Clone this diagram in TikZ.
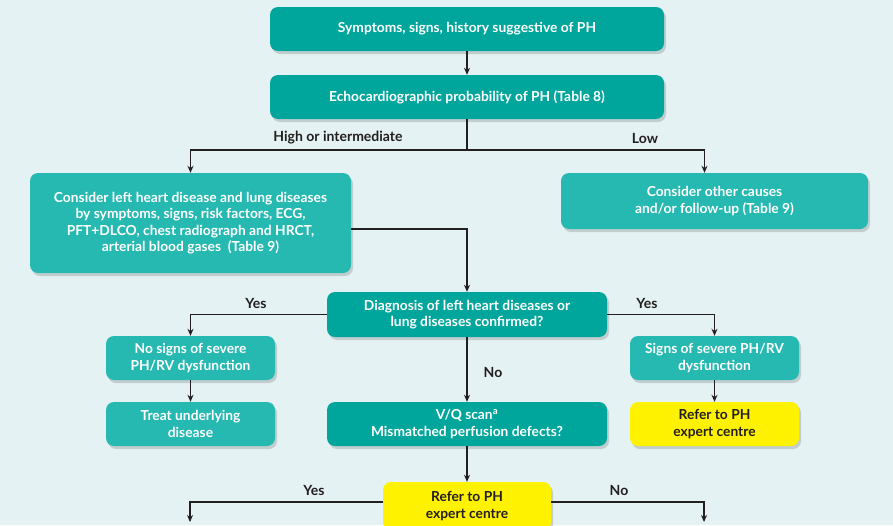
\documentclass[tikz,border=0pt]{standalone}
\usepackage{fontspec}
\setmainfont{Lato}
\usetikzlibrary{shadows,arrows.meta}
\definecolor{bg}{HTML}{E4F2F3}
\definecolor{tealdark}{HTML}{00A69C}
\definecolor{teallight}{HTML}{25B9B1}
\definecolor{ylw}{HTML}{FFF200}
\definecolor{ink}{HTML}{231F20}
\tikzset{
  box/.style={rounded corners=8pt, align=center, inner sep=0pt,
    font=\bfseries\fontsize{13.8}{16.5}\selectfont,
    drop shadow={shadow xshift=2pt, shadow yshift=-3pt, opacity=0.15, fill=black}},
  darkbox/.style={box, fill=tealdark, text=white},
  lightbox/.style={box, fill=teallight, text=white},
  yellowbox/.style={box, fill=ylw, text=ink},
  arr/.style={draw=ink, line width=1.2pt, -{Stealth[length=7pt,width=6pt]}},
  conn/.style={draw=ink, line width=1.2pt},
  lbl/.style={text=ink, font=\bfseries\fontsize{14}{16}\selectfont, inner sep=0pt}
}
\begin{document}
\begin{tikzpicture}[x=1pt,y=-1pt]
\path[use as bounding box, fill=bg] (0,0) rectangle (893,525);
\clip (0,0) rectangle (893,525);

\node[darkbox, minimum width=394pt, minimum height=44pt] (s1) at (467,29) {Symptoms, signs, history suggestive of PH};
\node[darkbox, minimum width=394pt, minimum height=44pt] (s2) at (467,97) {Echocardiographic probability of PH (Table 8)};
\node[lightbox, minimum width=321pt, minimum height=100pt] (left) at (190.5,223) {Consider left heart disease and lung diseases\\by symptoms, signs, risk factors, ECG,\\PFT+DLCO, chest radiograph and HRCT,\\arterial blood gases\ \ (Table 9)};
\node[lightbox, minimum width=307pt, minimum height=56pt] (other) at (714.5,201) {Consider other causes\\and/or follow-up (Table 9)};
\node[darkbox, minimum width=280pt, minimum height=45pt] (diag) at (467,314.5) {Diagnosis of left heart diseases or\\lung diseases confirmed?};
\node[lightbox, minimum width=169pt, minimum height=44pt] (nosigns) at (190.5,358) {No signs of severe\\PH/RV dysfunction};
\node[lightbox, minimum width=169pt, minimum height=44pt] (treat) at (190.5,424) {Treat underlying\\disease};
\node[lightbox, minimum width=169pt, minimum height=44pt] (signs) at (714.5,358) {Signs of severe PH/RV\\dysfunction};
\node[yellowbox, minimum width=169pt, minimum height=44pt] (referR) at (714.5,424) {Refer to PH\\expert centre};
\node[darkbox, minimum width=280pt, minimum height=44pt] (vq) at (467,424) {V/Q scan\textsuperscript{a}\\Mismatched perfusion defects?};
\node[yellowbox, minimum width=168pt, minimum height=48pt] (referB) at (467,506) {Refer to PH\\expert centre};

\coordinate (j1) at (467,150);
\coordinate (eL) at (190,522);
\coordinate (eR) at (704,522);

\draw[arr] (s1) -- (s2);
\draw[conn] (s2.south) -- (j1);
\draw[arr] (j1) -| (left.north);
\draw[arr] (j1) -| ([xshift=-10pt]other.north);
\draw[arr] ([yshift=-6pt]left.east) -| (diag.north);
\draw[arr] (diag.west) -| (nosigns.north);
\draw[arr] (diag.east) -| (signs.north);
\draw[arr] (nosigns) -- (treat);
\draw[arr] (signs) -- (referR);
\draw[arr] (diag) -- (vq);
\draw[arr] (vq) -- (referB);
\draw[arr] ([yshift=4pt]referB.west) -| (eL);
\draw[arr] ([yshift=4pt]referB.east) -| (eR);

\node[lbl] (l1) at (338,138) {High or intermediate};
\node[lbl] (l2) at (645,138) {Low};
\node[lbl] (l3) at (256,303) {Yes};
\node[lbl] (l4) at (647,303) {Yes};
\node[lbl] (l5) at (493,372) {No};
\node[lbl] (l6) at (314,490) {Yes};
\node[lbl] (l7) at (619,490) {No};
\end{tikzpicture}
\end{document}
